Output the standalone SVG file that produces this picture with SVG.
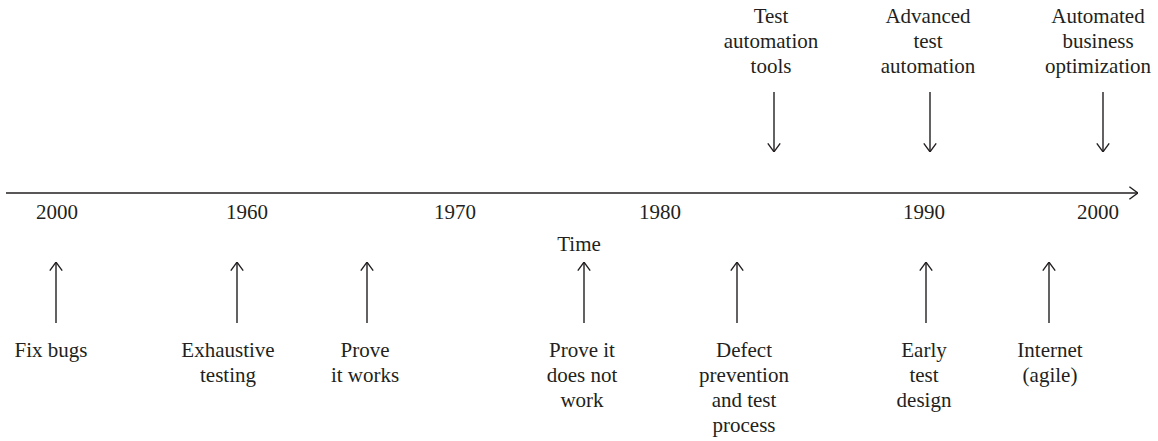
<svg xmlns="http://www.w3.org/2000/svg" width="1158" height="441" viewBox="0 0 1158 441">
<style>
text{font-family:"Liberation Serif","DejaVu Serif",serif;font-size:21px;fill:#231f20;text-anchor:middle}
.ln{stroke:#231f20;stroke-width:1.4;fill:none}
</style>
<defs>
<marker id="ah" viewBox="0 0 10 14" refX="9.6" refY="7" markerWidth="10" markerHeight="14" orient="auto" markerUnits="userSpaceOnUse">
<path d="M1,0.8 L9.4,7 L1,13.2" fill="none" stroke="#231f20" stroke-width="1.4"/>
</marker>
</defs>
<rect width="1158" height="441" fill="#fff"/>
<g id="connectors">
<line class="ln" x1="6" y1="193" x2="1138" y2="193" marker-end="url(#ah)"/>
<line class="ln" x1="774" y1="92" x2="774" y2="152" marker-end="url(#ah)"/>
<line class="ln" x1="930" y1="92" x2="930" y2="152" marker-end="url(#ah)"/>
<line class="ln" x1="1103" y1="92" x2="1103" y2="152" marker-end="url(#ah)"/>
<line class="ln" x1="56" y1="323" x2="56" y2="262" marker-end="url(#ah)"/>
<line class="ln" x1="237" y1="323" x2="237" y2="262" marker-end="url(#ah)"/>
<line class="ln" x1="367" y1="323" x2="367" y2="262" marker-end="url(#ah)"/>
<line class="ln" x1="584" y1="323" x2="584" y2="262" marker-end="url(#ah)"/>
<line class="ln" x1="737" y1="323" x2="737" y2="262" marker-end="url(#ah)"/>
<line class="ln" x1="926" y1="323" x2="926" y2="262" marker-end="url(#ah)"/>
<line class="ln" x1="1049" y1="323" x2="1049" y2="262" marker-end="url(#ah)"/>
</g>
<g id="axis-labels">
<text x="57" y="219">2000</text>
<text x="247" y="219">1960</text>
<text x="455" y="219">1970</text>
<text x="660" y="219">1980</text>
<text x="924" y="219">1990</text>
<text x="1098" y="219">2000</text>
<text x="579" y="251">Time</text>
</g>
<g id="test-automation-tools"><text x="771" y="23">Test</text><text x="771" y="48">automation</text><text x="771" y="73">tools</text></g>
<g id="advanced-test-automation"><text x="928" y="23">Advanced</text><text x="928" y="48">test</text><text x="928" y="73">automation</text></g>
<g id="automated-business-optimization"><text x="1098" y="23">Automated</text><text x="1098" y="48">business</text><text x="1098" y="73">optimization</text></g>
<g id="fix-bugs"><text x="51" y="357">Fix bugs</text></g>
<g id="exhaustive-testing"><text x="228" y="357">Exhaustive</text><text x="228" y="382">testing</text></g>
<g id="prove-it-works"><text x="365" y="357">Prove</text><text x="365" y="382">it works</text></g>
<g id="prove-it-does-not-work"><text x="582" y="357">Prove it</text><text x="582" y="382">does not</text><text x="582" y="407">work</text></g>
<g id="defect-prevention"><text x="744" y="357">Defect</text><text x="744" y="382">prevention</text><text x="744" y="407">and test</text><text x="744" y="432">process</text></g>
<g id="early-test-design"><text x="924" y="357">Early</text><text x="924" y="382">test</text><text x="924" y="407">design</text></g>
<g id="internet-agile"><text x="1050" y="357">Internet</text><text x="1050" y="382">(agile)</text></g>
</svg>
